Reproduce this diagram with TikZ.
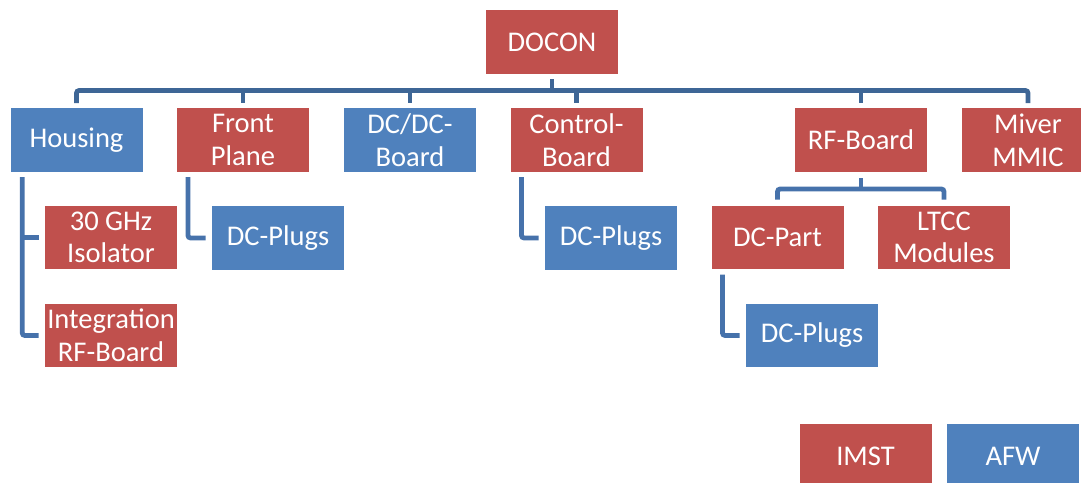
\documentclass[tikz,border=0pt]{standalone}
\usepackage{fontspec}
\setmainfont{Carlito}
\usetikzlibrary{calc}

\definecolor{imst}{HTML}{C0504D}
\definecolor{afw}{HTML}{4F81BD}
\definecolor{busblue}{HTML}{3E6696}
\definecolor{linkblue}{HTML}{4672AB}

\tikzset{
  part/.style={rectangle,text=white,minimum width=99pt,minimum height=47.6pt,
    inner sep=0pt,align=center,font=\fontsize{21.4}{24.5}\selectfont},
  imstpart/.style={part,fill=imst},
  afwpart/.style={part,fill=afw},
  bus/.style={draw=busblue,line width=3.6pt,rounded corners=2pt},
  link/.style={draw=linkblue,line width=3.6pt,rounded corners=2pt}
}

\begin{document}
\begin{tikzpicture}[x=0.75pt,y=-0.75pt]
	\useasboundingbox (0,0) rectangle (1081,482);
	% top level
	\node[imstpart] (Docon) at (552,42) {DOCON};
	% second level
	\node[afwpart]  (Housing) at (76.5,140) {Housing};
	\node[imstpart] (Front)   at (243,140)  {Front\\Plane};
	\node[afwpart]  (DcDc)    at (410,140)  {DC/DC-\\Board};
	\node[imstpart] (Control) at (576.5,140) {Control-\\Board};
	\node[imstpart] (RfBoard) at (861,140)  {RF-Board};
	\node[imstpart] (Miver)   at (1028,140) {Miver\\MMIC};
	% third level
	\node[imstpart] (Isolator)    at (111,237.5) {30 GHz\\Isolator};
	\node[imstpart] (Integration) at (111,335.5) {Integration\\RF-Board};
	\node[afwpart]  (PlugsA) at (278,238)   {DC-Plugs};
	\node[afwpart]  (PlugsB) at (611,238)   {DC-Plugs};
	\node[imstpart] (DcPart) at (777.5,237.5) {DC-Part};
	\node[imstpart] (Ltcc)   at (944,237.5) {LTCC\\Modules};
	\node[afwpart]  (PlugsC) at (812,335.5) {DC-Plugs};
	% legend
	\node[imstpart] (Imst) at (865.5,456) {IMST};
	\node[afwpart]  (Afw)  at (1013,456)  {AFW};

	% main bus
	\coordinate (bus) at (0,90.5);
	\draw[bus,shorten <=3.75pt,shorten >=3.75pt]
	     (Housing.north) -- (Housing.north |- bus) -- (Miver.north |- bus) -- (Miver.north);
	\draw[bus,shorten <=3.75pt] (Docon.south) -- (Docon.south |- bus);
	\foreach \n in {Front,DcDc,Control,RfBoard}
	  \draw[bus,shorten >=3.75pt] (\n.north |- bus) -- (\n.north);

	% RF-Board bus
	\coordinate (rfbus) at (0,189);
	\draw[link,shorten <=4.5pt] (RfBoard.south) -- (RfBoard.south |- rfbus);
	\draw[link,shorten <=4.5pt,shorten >=4.5pt]
	     (DcPart.north) -- (DcPart.north |- rfbus) -- (Ltcc.north |- rfbus) -- (Ltcc.north);

	% side links
	\coordinate (hx) at ([xshift=9pt]Housing.south west);
	\draw[link,shorten <=3.75pt,shorten >=4.5pt] (hx) |- (Integration.west);
	\draw[link,shorten >=4.5pt] (hx |- Isolator.west) -- (Isolator.west);
	\foreach \a/\b in {Front/PlugsA,Control/PlugsB,DcPart/PlugsC}
	  \draw[link,shorten <=3.75pt,shorten >=4.5pt] ([xshift=8.4pt]\a.south west) |- (\b.west);
\end{tikzpicture}
\end{document}
